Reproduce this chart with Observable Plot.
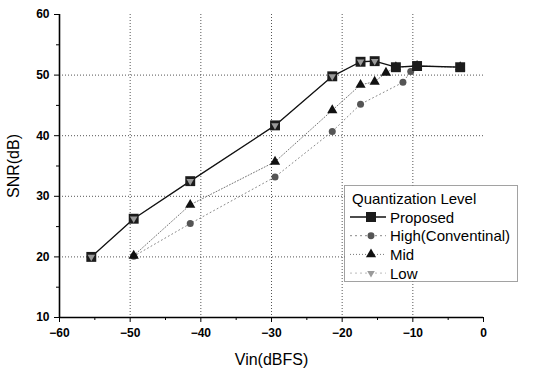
<!DOCTYPE html>
<html>
<head>
<meta charset="utf-8">
<script src="https://cdn.jsdelivr.net/npm/d3@7"></script>
<script src="https://cdn.jsdelivr.net/npm/@observablehq/plot@0.6"></script>
<style>
  body { margin: 0; background: white; }
  #wrap { position: relative; width: 534px; height: 370px; font-family: "Liberation Sans", Arial, sans-serif; }
  #legend { position: absolute; left: 344px; top: 185px; }
  #wrap svg.chart text { font-weight: bold; }
  #wrap svg.chart g[aria-label="x-axis label"] text,
  #wrap svg.chart g[aria-label="y-axis label"] text { font-weight: normal; font-size: 16px; }
</style>
</head>
<body>
<div id="wrap"></div>
<script>
// ---- data ----
const proposedX = [-55.5, -49.5, -41.5, -29.5, -21.4, -17.4, -15.4, -12.4, -9.4, -3.3];
const proposedY = [20.0, 26.3, 32.5, 41.7, 49.8, 52.2, 52.3, 51.3, 51.5, 51.3];
const highX = [-49.5, -41.5, -29.5, -21.4, -17.4, -11.4, -10.3, -9.4, -3.3];
const highY = [20.1, 25.5, 33.2, 40.7, 45.2, 48.8, 50.6, 51.5, 51.3];
const midX = [-49.5, -41.5, -29.5, -21.4, -17.4, -15.4, -13.8, -12.4, -9.4, -3.3];
const midY = [20.2, 28.6, 35.7, 44.2, 48.4, 48.9, 50.4, 51.3, 51.5, 51.3];
const lowX = [-55.5, -49.5, -41.5, -29.5, -21.4, -17.4, -15.4];
const lowY = [20.0, 26.3, 32.5, 41.7, 49.8, 52.2, 52.3];
const xTicks = [-60, -50, -40, -30, -20, -10, 0];
const xMinor = [-55, -45, -35, -25, -15, -5];
const yTicks = [10, 20, 30, 40, 50, 60];
const yMinor = [15, 25, 35, 45, 55];
const legendTitle = "Quantization Level";
const seriesNames = ["Proposed", "High(Conventinal)", "Mid", "Low"];

const zip = (xs, ys) => xs.map((x, i) => ({x, y: ys[i]}));
const proposed = zip(proposedX, proposedY);
const high = zip(highX, highY);
const mid = zip(midX, midY);
const low = zip(lowX, lowY);

const chart = Plot.plot({
  width: 534, height: 370,
  marginLeft: 59, marginRight: 51, marginTop: 14, marginBottom: 53,
  className: "chart",
  x: {domain: [-60, 0]},
  y: {domain: [10, 60]},
  style: {fontFamily: "'Liberation Sans', Arial, sans-serif", fontSize: "12px", background: "white", color: "black"},
  marks: [
    Plot.gridX(xTicks.slice(1, -1), {stroke: "#555", strokeOpacity: 1, strokeWidth: 1, strokeDasharray: "1,2"}),
    Plot.gridY(yTicks.slice(1, -1), {stroke: "#555", strokeOpacity: 1, strokeWidth: 1, strokeDasharray: "1,2"}),
    Plot.axisX(xTicks, {tickSize: 5, tickPadding: 6, label: "Vin(dBFS)", labelAnchor: "center", labelArrow: "none", labelOffset: 47}),
    Plot.axisX(xMinor, {tickSize: 3, text: null, label: null}),
    Plot.axisY(yTicks, {tickSize: 5, tickPadding: 5, label: "SNR(dB)", labelAnchor: "center", labelArrow: "none", labelOffset: 52}),
    Plot.axisY(yMinor, {tickSize: 3, text: null, label: null}),
    Plot.ruleY([10], {strokeWidth: 1.6}),
    Plot.ruleX([-60], {strokeWidth: 1.6}),
    Plot.line(low, {x: "x", y: "y", stroke: "#bbb", strokeWidth: 1, strokeDasharray: "1,2"}),
    Plot.line(high, {x: "x", y: "y", stroke: "#888", strokeWidth: 1, strokeDasharray: "1,3"}),
    Plot.line(mid, {x: "x", y: "y", stroke: "#777", strokeWidth: 1, strokeDasharray: "1,2"}),
    Plot.line(proposed, {x: "x", y: "y", stroke: "#111", strokeWidth: 1.3}),
    Plot.dot(high, {x: "x", y: "y", r: 3.5, fill: "#555", stroke: "none"}),
    Plot.dot(mid, {x: "x", y: "y", symbol: "triangle", r: 3.8, fill: "#111", stroke: "none"}),
    Plot.dot(proposed, {x: "x", y: "y", symbol: "square", r: 5.6, fill: "#1c1c1c", stroke: "none"}),
    Plot.dot(low, {x: "x", y: "y", symbol: "triangle", r: 2.8, rotate: 180, fill: "#9a9a9a", stroke: "none"})
  ]
});
const wrap = document.getElementById("wrap");
wrap.appendChild(chart);

// ---- legend ----
const lg = d3.select(wrap).append("svg").attr("id", "legend")
  .attr("width", 174).attr("height", 97)
  .style("font-family", "'Liberation Sans', Arial, sans-serif");
lg.append("rect").attr("x", 0.5).attr("y", 0.5).attr("width", 173).attr("height", 96)
  .attr("fill", "white").attr("stroke", "#444").attr("stroke-dasharray", "1,1");
lg.append("text").attr("x", 8).attr("y", 19).attr("font-size", 15).text(legendTitle);
const rows = [
  {stroke: "#111", dash: null, sym: d3.symbolSquare, size: 100, fill: "#1c1c1c", rot: 0},
  {stroke: "#888", dash: "2,3", sym: d3.symbolCircle, size: 38, fill: "#555", rot: 0},
  {stroke: "#777", dash: "1,2", sym: d3.symbolTriangle, size: 45, fill: "#111", rot: 0},
  {stroke: "#bbb", dash: "2,3", sym: d3.symbolTriangle, size: 25, fill: "#9a9a9a", rot: 180}
];
rows.forEach((r, i) => {
  const cy = 32 + i * 18.7;
  lg.append("line").attr("x1", 6).attr("x2", 42).attr("y1", cy).attr("y2", cy)
    .attr("stroke", r.stroke).attr("stroke-width", i === 0 ? 1.3 : 1)
    .attr("stroke-dasharray", r.dash);
  lg.append("path").attr("d", d3.symbol(r.sym, r.size)())
    .attr("transform", `translate(27,${cy}) rotate(${r.rot})`).attr("fill", r.fill);
  lg.append("text").attr("x", 46).attr("y", cy + 5.5).attr("font-size", 15).text(seriesNames[i]);
});
</script>
</body>
</html>
